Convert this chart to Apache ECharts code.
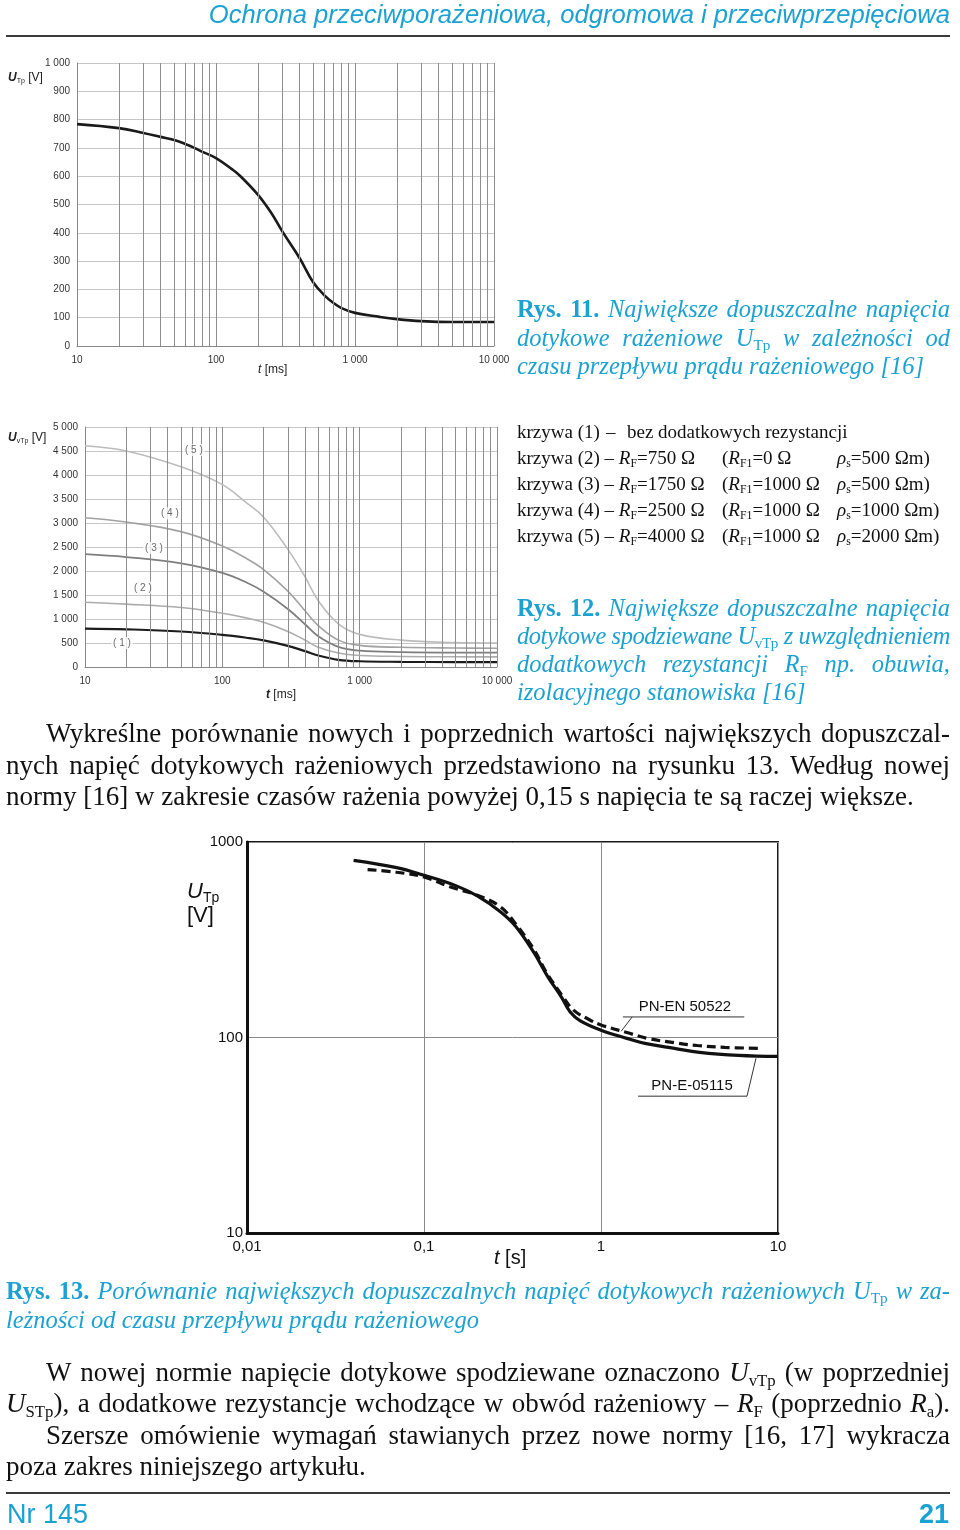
<!DOCTYPE html>
<html><head><meta charset="utf-8">
<script src="https://cdn.jsdelivr.net/npm/echarts@6/dist/echarts.min.js"></script>
<style>
body{margin:0;background:#fff;}
#page{position:relative;width:960px;height:1530px;overflow:hidden;background:#fff;}
#chart{position:absolute;left:0;top:0;width:960px;height:1530px;}
.t{position:absolute;white-space:nowrap;}
.serif{font-family:'Liberation Serif','Times New Roman',serif;}
.sans{font-family:'Liberation Sans',Arial,sans-serif;}
.cyan{color:#1ba2d3;}
.blk{position:absolute;}
.j{display:block;text-align:justify;text-align-last:justify;white-space:normal;}
.l{display:block;white-space:nowrap;}
sub{font-size:0.62em;vertical-align:-0.28em;line-height:0;font-style:normal;}
i sub{font-style:normal;}
.rule{position:absolute;left:6px;width:944px;height:2px;background:#3a3a3a;}
</style>
</head><body>
<div id="page">
<div id="chart"></div>

<div class="t sans cyan" style="right:10px;top:0px;font-size:25.6px;font-style:italic;">Ochrona przeciwporażeniowa, odgromowa i przeciwprzepięciowa</div>
<div class="rule" style="top:35px"></div>

<!-- axis titles chart 1 -->
<div class="t sans" style="left:8px;top:70px;font-size:12px;color:#222"><b><i>U</i></b><sub style="font-size:7px">Tp</sub> [V]</div>
<div class="t sans" style="left:258px;top:362px;font-size:12px;color:#222"><i>t</i> [ms]</div>

<!-- caption Rys 11 -->
<div class="blk serif cyan" style="left:517px;top:295px;width:433px;font-size:24.5px;line-height:28.5px;">
 <div class="j"><b>Rys. 11.</b> <i>Największe dopuszczalne napięcia</i></div>
 <div class="j"><i>dotykowe rażeniowe U<sub>Tp</sub> w zależności od</i></div>
 <div class="l"><i>czasu przepływu prądu rażeniowego [16]</i></div>
</div>

<!-- axis titles chart 2 -->
<div class="t sans" style="left:8px;top:430px;font-size:12px;color:#222"><b><i>U</i></b><sub style="font-size:7px">vTp</sub> [V]</div>
<div class="t sans" style="left:266px;top:687px;font-size:12px;color:#222"><b><i>t</i></b> [ms]</div>

<!-- legend -->
<div class="blk serif" style="left:517px;top:419px;font-size:19px;line-height:26px;color:#111;width:440px;height:130px;">
 <div class="t" style="left:0;top:0">krzywa (1)</div><div class="t" style="left:89px;top:0">–</div><div class="t" style="left:110px;top:0">bez dodatkowych rezystancji</div>
 <div class="t" style="left:0;top:26px">krzywa (2) – <i>R</i><sub>F</sub>=750 Ω</div><div class="t" style="left:205px;top:26px">(<i>R</i><sub>F1</sub>=0 Ω</div><div class="t" style="left:320px;top:26px"><i>ρ</i><sub>s</sub>=500 Ωm)</div>
 <div class="t" style="left:0;top:52px">krzywa (3) – <i>R</i><sub>F</sub>=1750 Ω</div><div class="t" style="left:205px;top:52px">(<i>R</i><sub>F1</sub>=1000 Ω</div><div class="t" style="left:320px;top:52px"><i>ρ</i><sub>s</sub>=500 Ωm)</div>
 <div class="t" style="left:0;top:78px">krzywa (4) – <i>R</i><sub>F</sub>=2500 Ω</div><div class="t" style="left:205px;top:78px">(<i>R</i><sub>F1</sub>=1000 Ω</div><div class="t" style="left:320px;top:78px"><i>ρ</i><sub>s</sub>=1000 Ωm)</div>
 <div class="t" style="left:0;top:104px">krzywa (5) – <i>R</i><sub>F</sub>=4000 Ω</div><div class="t" style="left:205px;top:104px">(<i>R</i><sub>F1</sub>=1000 Ω</div><div class="t" style="left:320px;top:104px"><i>ρ</i><sub>s</sub>=2000 Ωm)</div>
</div>

<!-- caption Rys 12 -->
<div class="blk serif cyan" style="left:517px;top:594px;width:433px;font-size:24.5px;line-height:28px;">
 <div class="j"><b>Rys. 12.</b> <i>Największe dopuszczalne napięcia</i></div>
 <div class="j" style="letter-spacing:-0.45px;word-spacing:-3px"><i>dotykowe spodziewane U<sub>vTp</sub> z uwzględnieniem</i></div>
 <div class="j"><i>dodatkowych rezystancji R<sub>F</sub> np. obuwia,</i></div>
 <div class="l"><i>izolacyjnego stanowiska [16]</i></div>
</div>

<!-- paragraph 1 -->
<div class="blk serif" style="left:6px;top:718px;width:944px;font-size:27px;line-height:31.5px;color:#111;">
 <div class="j" style="padding-left:40px">Wykreślne porównanie nowych i poprzednich wartości największych dopuszczal-</div>
 <div class="j">nych napięć dotykowych rażeniowych przedstawiono na rysunku 13. Według nowej</div>
 <div class="l">normy [16] w zakresie czasów rażenia powyżej 0,15 s napięcia te są raczej większe.</div>
</div>

<!-- axis titles chart 3 -->
<div class="t sans" style="left:187px;top:879px;font-size:22px;line-height:24px;color:#111"><i>U</i><sub style="font-size:14px">Tp</sub><br>[V]</div>
<div class="t sans" style="left:494px;top:1246px;font-size:20px;color:#111"><i>t</i> [s]</div>

<!-- caption Rys 13 -->
<div class="blk serif cyan" style="left:6px;top:1276px;width:944px;font-size:24.5px;line-height:29px;">
 <div class="j"><b>Rys. 13.</b> <i>Porównanie największych dopuszczalnych napięć dotykowych rażeniowych U<sub>Tp</sub> w za-</i></div>
 <div class="l"><i>leżności od czasu przepływu prądu rażeniowego</i></div>
</div>

<!-- paragraph 2 -->
<div class="blk serif" style="left:6px;top:1357px;width:944px;font-size:27px;line-height:31.3px;color:#111;">
 <div class="j" style="padding-left:40px">W nowej normie napięcie dotykowe spodziewane oznaczono <i>U</i><sub>vTp</sub> (w poprzedniej</div>
 <div class="j" style="word-spacing:-2px"><i>U</i><sub>STp</sub>), a dodatkowe rezystancje wchodzące w obwód rażeniowy – <i>R</i><sub>F</sub> (poprzednio <i>R</i><sub>a</sub>).</div>
 <div class="j" style="padding-left:40px">Szersze omówienie wymagań stawianych przez nowe normy [16, 17] wykracza</div>
 <div class="l">poza zakres niniejszego artykułu.</div>
</div>

<div class="rule" style="top:1492px"></div>
<div class="t sans cyan" style="left:7px;top:1499px;font-size:27px;">Nr 145</div>
<div class="t sans cyan" style="right:11px;top:1499px;font-size:27px;font-weight:bold;">21</div>
</div>

<script>
// ---------- DATA ----------
// Rys. 11 : U_Tp vs t [ms]
const topT = [10,20,30,40,50,60,70,80,100,130,150,200,250,300,400,500,600,700,800,1000,1500,2000,3000,5000,10000];
const topV = [784,770,753,739,728,714,700,686,664,625,600,535,470,405,310,225,180,152,134,117,103,95,88,85,85];

// Rys. 12 : U_vTp vs t [ms], curves (1)..(5)
const midT  = [10,20,50,100,150,200,300,400,500,700,1000,2000,5000,10000];
const mid1V = [800,785,740,670,610,555,440,330,240,150,120,108,102,100];
const mid2V = [1350,1310,1240,1120,1020,930,740,560,410,290,240,220,212,210];
const mid3V = [2350,2290,2160,1960,1760,1570,1210,890,640,420,340,310,300,300];
const mid4V = [3110,3020,2820,2520,2260,2030,1580,1170,860,560,450,410,395,390];
const mid5V = [4610,4500,4170,3800,3420,3120,2450,1880,1380,900,680,560,510,500];
const midLabels = ['( 1 )','( 2 )','( 3 )','( 4 )','( 5 )'];
const midLabelT = [18.6,26.4,31.8,41.5,62];
const midLabelV = [500,1650,2480,3200,4520];

// Rys. 13 : U_Tp vs t [s]
const solidT = [0.04,0.07,0.1,0.15,0.2,0.27,0.33,0.42,0.5,0.6,0.67,0.76,1,1.4,1.8,2.6,3.6,6,10];
const solidV = [806,740,676,600,530,440,370,270,205,160,135,122,109,99,93,88,84,81,80];
const dashT  = [0.048,0.07,0.1,0.14,0.2,0.27,0.334,0.42,0.49,0.6,0.7,0.85,1,1.4,1.83,2.6,3.5,5,8];
const dashV  = [723,700,662,590,534,466,375,280,216,165,138,124,116,106,99,94,91,89,88];
const annEN  = {text:'PN-EN 50522', textAt:[2.98,143], under:[[1.33,127.4],[6.45,127.4]], leader:[[1.50,127.4],[1.30,107.6]]};
const annE   = {text:'PN-E-05115', textAt:[3.27,56.3], under:[[1.62,50.1],[6.68,50.1]], leader:[[6.68,50.1],[7.51,78.3]]};

// tick values / labels
const minorMs = [20,30,40,50,60,70,80,90,200,300,400,500,600,700,800,900,2000,3000,4000,5000,6000,7000,8000,9000];

// ---------- CHART ----------
const zip = (a,b)=>a.map((v,i)=>[v,b[i]]);
const fmtK = v => String(Math.round(v)).replace(/\B(?=(\d{3})+(?!\d))/g,' ');
const fmtDec = v => String(+(+v).toPrecision(3)).replace('.',',');
const fmtInt = v => String(Math.round(v));
const gV = '#8e8e8e', gH = '#c6c6c6';
const lab = {fontFamily:'Liberation Sans, Arial', fontSize:10, color:'#333'};

function minorSeries(xi, yi, y0){
  return {type:'line', xAxisIndex:xi, yAxisIndex:yi, z:1, data:minorMs.map(v=>[v,y0]), showSymbol:false, silent:true,
    lineStyle:{opacity:0}, markLine:{silent:true, symbol:['none','none'], label:{show:false}, animation:false,
    lineStyle:{color:gV, width:1, type:'solid'}, data:minorMs.map(v=>({xAxis:v}))}};
}
function curve(xi, yi, data, color, w, extra){
  return Object.assign({type:'line', xAxisIndex:xi, yAxisIndex:yi, z:3, data, showSymbol:false, smooth:0.4,
    lineStyle:{color, width:w}, silent:true}, extra||{});
}

const chart = echarts.init(document.getElementById('chart'), null, {renderer:'canvas'});
const option = {
  animation:false,
  grid:[
    {left:77, top:63, width:417, height:283},
    {left:85, top:427, width:412, height:240},
    {left:247, top:842, width:531, height:391, show:true, borderColor:'#1a1a1a', borderWidth:2}
  ],
  xAxis:[
    {gridIndex:0, type:'log', logBase:10, min:10, max:10000,
     axisLine:{lineStyle:{color:'#888'}}, axisTick:{show:false},
     axisLabel:Object.assign({margin:9, formatter:fmtK}, lab),
     splitLine:{show:true, lineStyle:{color:gV}}},
    {gridIndex:1, type:'log', logBase:10, min:10, max:10000,
     axisLine:{lineStyle:{color:'#888'}}, axisTick:{show:false},
     axisLabel:Object.assign({margin:9, formatter:fmtK}, lab),
     splitLine:{show:true, lineStyle:{color:gV}}},
    {gridIndex:2, type:'log', logBase:10, min:0.01, max:10,
     axisLine:{lineStyle:{color:'#111', width:3}}, axisTick:{show:false},
     axisLabel:{margin:6, formatter:fmtDec, fontFamily:'Liberation Sans, Arial', fontSize:15, color:'#111'},
     splitLine:{show:true, lineStyle:{color:'#8a8a8a', width:1}}}
  ],
  yAxis:[
    {gridIndex:0, type:'value', min:0, max:1000, interval:100,
     axisLine:{show:true, lineStyle:{color:'#888'}}, axisTick:{show:false},
     axisLabel:Object.assign({margin:7, formatter:fmtK}, lab),
     splitLine:{show:true, lineStyle:{color:gH}}},
    {gridIndex:1, type:'value', min:0, max:5000, interval:500,
     axisLine:{show:true, lineStyle:{color:'#888'}}, axisTick:{show:false},
     axisLabel:Object.assign({margin:7, formatter:fmtK}, lab),
     splitLine:{show:true, lineStyle:{color:gH}}},
    {gridIndex:2, type:'log', logBase:10, min:10, max:1000,
     axisLine:{show:true, lineStyle:{color:'#111', width:3}}, axisTick:{show:false},
     axisLabel:{margin:4, formatter:fmtInt, fontFamily:'Liberation Sans, Arial', fontSize:15, color:'#111'},
     splitLine:{show:true, lineStyle:{color:'#8a8a8a', width:1}}}
  ],
  series:[
    minorSeries(0,0,0),
    curve(0,0,zip(topT,topV),'#1a1a1a',2.6),
    minorSeries(1,1,0),
    curve(1,1,zip(midT,mid5V),'#bcbcbc',1.6),
    curve(1,1,zip(midT,mid4V),'#a2a2a2',1.6),
    curve(1,1,zip(midT,mid3V),'#7e7e7e',1.8),
    curve(1,1,zip(midT,mid2V),'#acacac',1.6),
    curve(1,1,zip(midT,mid1V),'#1c1c1c',2.2),
    {type:'scatter', xAxisIndex:1, yAxisIndex:1, z:5, symbolSize:0, silent:true,
     data:midLabelT.map((t,i)=>({value:[t,midLabelV[i]], name:midLabels[i]})),
     label:{show:true, position:'inside', formatter:p=>p.name, fontFamily:'Liberation Sans, Arial', fontSize:10, color:'#444',
            backgroundColor:'#fff', padding:[1,2]}},
    curve(2,2,zip(solidT,solidV),'#111',3.2),
    curve(2,2,zip(dashT,dashV),'#111',3.2,{lineStyle:{color:'#111', width:3.2, type:[9,5]}})
  ]
};
chart.setOption(option);

// annotations (defined in data space, converted through the chart's own scales)
function px(p){ return chart.convertToPixel({gridIndex:2}, p); }
const graphics = [];
[annEN, annE].forEach(a=>{
  const u0=px(a.under[0]), u1=px(a.under[1]), l0=px(a.leader[0]), l1=px(a.leader[1]), tp=px(a.textAt);
  graphics.push({type:'line', shape:{x1:u0[0],y1:u0[1],x2:u1[0],y2:u1[1]}, style:{stroke:'#333', lineWidth:1}, z:10});
  graphics.push({type:'line', shape:{x1:l0[0],y1:l0[1],x2:l1[0],y2:l1[1]}, style:{stroke:'#333', lineWidth:1}, z:10});
  graphics.push({type:'text', x:tp[0], y:tp[1], style:{text:a.text, fill:'#111', font:'15px "Liberation Sans", Arial', align:'center', verticalAlign:'middle'}, z:10});
});
chart.setOption({graphic:graphics});
</script>
</body></html>
